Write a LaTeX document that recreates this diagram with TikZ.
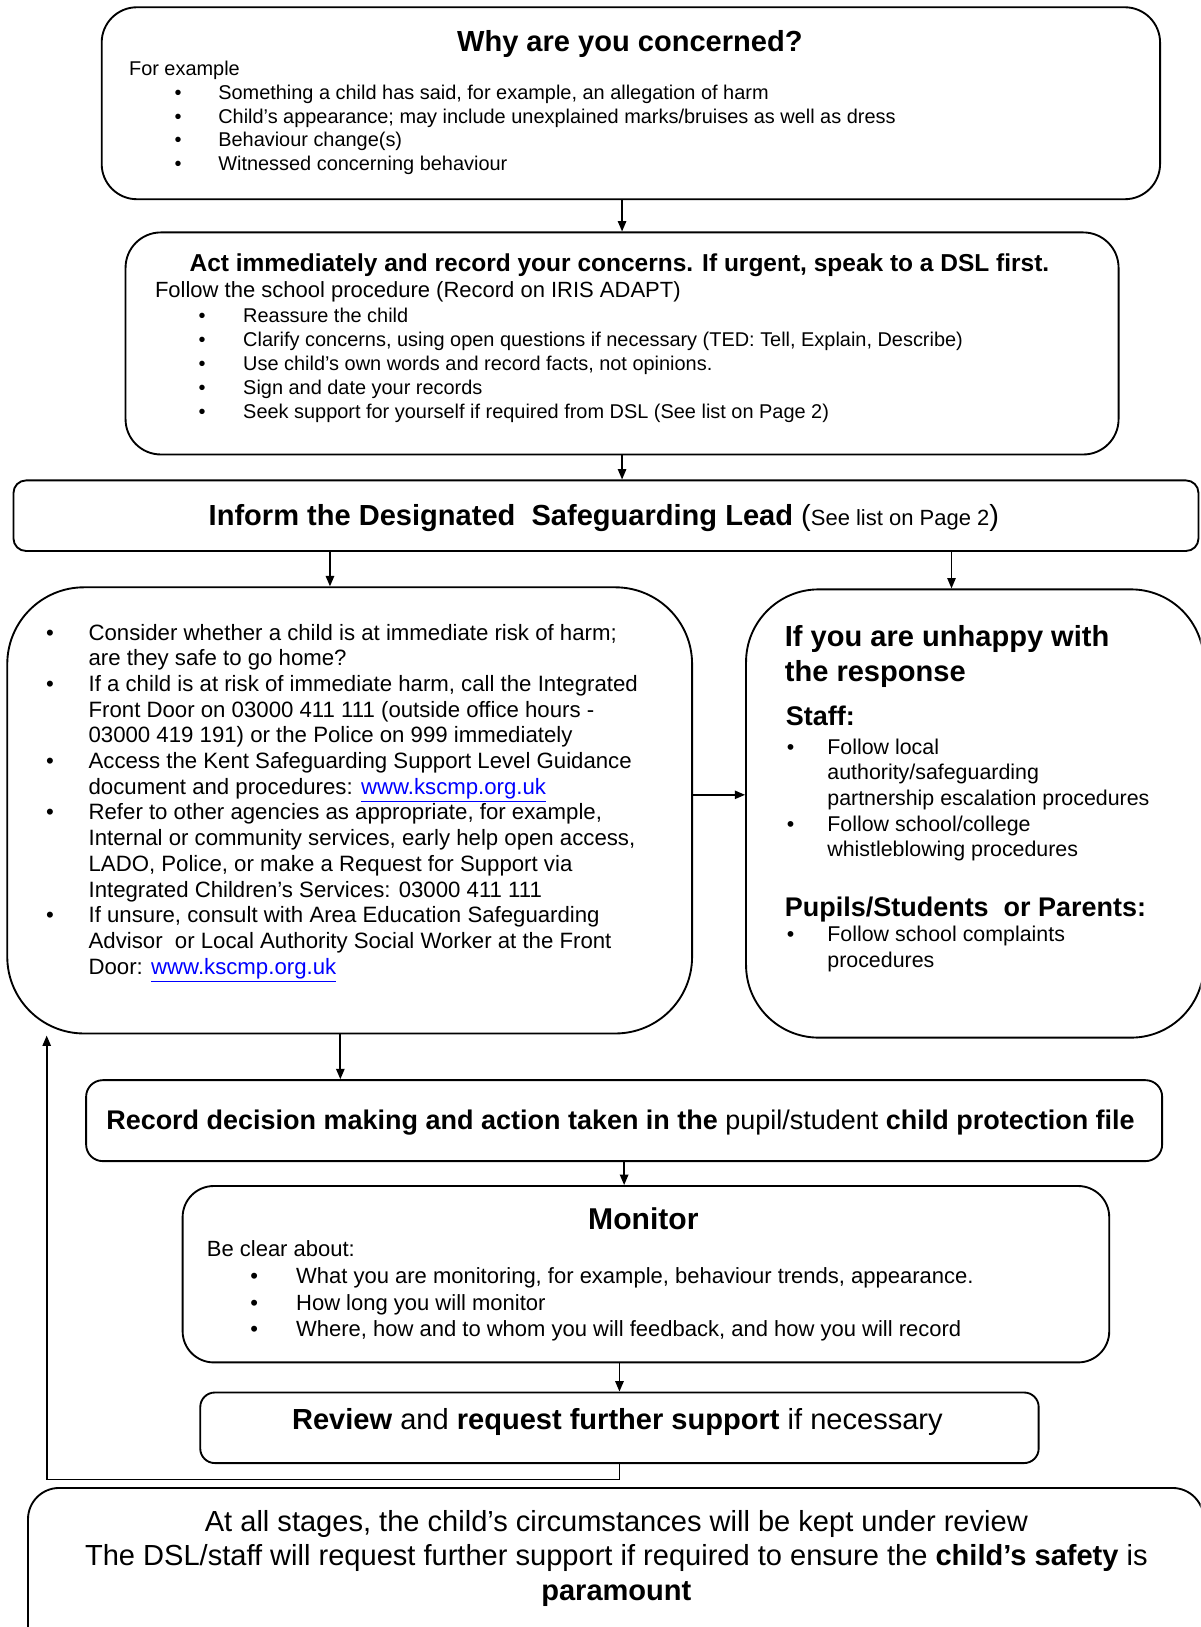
\documentclass[tikz,border=0pt]{standalone}
\usepackage{fontspec}
\setmainfont{Liberation Sans}
\usetikzlibrary{fit,calc,arrows.meta}
\newcommand\myfs[2]{\fontsize{#1}{#2}\selectfont}
\newcommand\weblink[1]{\textcolor{linkblue}{\underline{#1}}}
\definecolor{linkblue}{RGB}{0,0,255}
\begin{document}
\begin{tikzpicture}[x=0.5pt,y=0.5pt,
  box/.style={draw, line width=0.9pt, inner sep=0pt, rectangle},
  arr/.style={-{Triangle[length=5pt,width=4pt]}, line width=0.85pt},
  txt/.style={anchor=base west, inner sep=0pt},
  ctr/.style={anchor=base, inner sep=0pt},
  fa/.style={font=\myfs{9.6}{11}},
  fb/.style={font=\myfs{9.6}{11}},
  fc/.style={font=\myfs{10.7}{12}},
  fd/.style={font=\myfs{10.3}{12}},
  fe/.style={font=\myfs{10.6}{12}},
  head/.style={font=\myfs{14}{17}\bfseries},
  sub/.style={font=\myfs{13}{15}\bfseries}]
\useasboundingbox (0,0) rectangle (1157,-1568);
\clip (0,0) rectangle (1157,-1568);

% ---------- Box 1 ----------
\node[box, rounded corners=17pt, fit={(98,-7)(1118,-192)}] (b1) {};
\node[ctr, head] (b1t) at (607,-50) {Why are you concerned?};
\node[txt, fa] (b1a) at (124,-73) {For example};
\foreach \t [count=\i] in {{Something a child has said, for example, an allegation of harm},
  {Child’s appearance; may include unexplained marks/bruises as well as dress},
  {Behaviour change(s)},
  {Witnessed concerning behaviour}}{
  \node[txt, fa] (b1d\i) at (168,{-96-22.7*(\i-1)}) {•};
  \node[txt, fa] (b1l\i) at (210,{-96-22.7*(\i-1)}) {\t};
}

% ---------- Box 2 ----------
\node[box, rounded corners=17pt, fit={(121,-224)(1078,-438)}] (b2) {};
\node[ctr, font=\myfs{11.8}{14}\bfseries] (b2t) at (597,-262) {Act immediately and record your concerns. If urgent, speak to a DSL first.};
\node[txt, font=\myfs{10.6}{12}] (b2a) at (149,-287) {Follow the school procedure (Record on IRIS ADAPT)};
\foreach \t [count=\i] in {{Reassure the child},
  {Clarify concerns, using open questions if necessary (TED: Tell, Explain, Describe)},
  {Use child’s own words and record facts, not opinions.},
  {Sign and date your records},
  {Seek support for yourself if required from DSL (See list on Page 2)}}{
  \node[txt, fb] (b2d\i) at (191,{-311-23*(\i-1)}) {•};
  \node[txt, fb] (b2l\i) at (234,{-311-23*(\i-1)}) {\t};
}

% ---------- Box 3 ----------
\node[box, rounded corners=6pt, fit={(13,-463)(1155,-531)}] (b3) {};
\node[ctr, font=\myfs{14}{17}] (b3t) at (582,-506) {\bfseries Inform the Designated\ \ Safeguarding Lead \mdseries(\myfs{10.6}{12}See list on Page 2\myfs{14}{17})};

% ---------- Box 4 ----------
\node[box, rounded corners=37pt, fit={(7,-566)(667,-996)}] (b4) {};
\foreach \t [count=\i] in {{Consider whether a child is at immediate risk of harm;},
  {are they safe to go home?},
  {If a child is at risk of immediate harm, call the Integrated},
  {Front Door on 03000 411 111 (outside office hours -},
  {03000 419 191) or the Police on 999 immediately},
  {Access the Kent Safeguarding Support Level Guidance},
  {document and procedures: \weblink{www.kscmp.org.uk}},
  {Refer to other agencies as appropriate, for example,},
  {Internal or community services, early help open access,},
  {LADO, Police, or make a Request for Support via},
  {Integrated Children’s Services: 03000 411 111},
  {If unsure, consult with Area Education Safeguarding},
  {Advisor\ \ or Local Authority Social Worker at the Front},
  {Door: \weblink{www.kscmp.org.uk}}}{
  \node[txt, fc] (b4l\i) at (85,{-617-24.75*(\i-1)}) {\t};
}
\foreach \i in {1,3,6,8,12}{
  \node[txt, fc] (b4d\i) at (44,{-617-24.75*(\i-1)}) {•};
}

% ---------- Box 5 ----------
\node[box, rounded corners=35pt, fit={(719,-568)(1160,-1000)}] (b5) {};
\node[txt, head] (b5t1) at (756,-623) {If you are unhappy with};
\node[txt, head] (b5t2) at (756,-657) {the response};
\node[txt, sub] (b5s) at (757,-699) {Staff:};
\foreach \t [count=\i] in {{Follow local},{authority/safeguarding},{partnership escalation procedures},
  {Follow school/college},{whistleblowing procedures}}{
  \node[txt, fd] (b5l\i) at (797,{-727-24.7*(\i-1)}) {\t};
}
\node[txt, fd] (b5d1) at (758,-727) {•};
\node[txt, fd] (b5d2) at (758,-801) {•};
\node[txt, sub] (b5p) at (756,-883) {Pupils/Students\ \ or Parents:};
\node[txt, fd] (b5d3) at (758,-907) {•};
\node[txt, fd] (b5m1) at (797,-907) {Follow school complaints};
\node[txt, fd] (b5m2) at (797,-932) {procedures};

% ---------- Box 6 ----------
\node[box, rounded corners=8pt, fit={(83,-1041)(1120,-1119)}] (b6) {};
\node[ctr, font=\myfs{13}{15}] (b6t) at (598,-1089) {\bfseries Record decision making and action taken in the \mdseries pupil/student \bfseries child protection file};

% ---------- Box 7 ----------
\node[box, rounded corners=15pt, fit={(176,-1143)(1069,-1313)}] (b7) {};
\node[ctr, font=\myfs{14.5}{17}\bfseries] (b7t) at (620,-1185) {Monitor};
\node[txt, fe] (b7a) at (199,-1211) {Be clear about:};
\foreach \t [count=\i] in {{What you are monitoring, for example, behaviour trends, appearance.},
  {How long you will monitor},
  {Where, how and to whom you will feedback, and how you will record}}{
  \node[txt, fe] (b7d\i) at (241,{-1237-25.5*(\i-1)}) {•};
  \node[txt, fe] (b7l\i) at (285,{-1237-25.5*(\i-1)}) {\t};
}

% ---------- Box 8 ----------
\node[box, rounded corners=7pt, fit={(193,-1342)(1001,-1410)}] (b8) {};
\node[ctr, font=\myfs{14}{17}] (b8t) at (595,-1378) {\bfseries Review \mdseries and \bfseries request further support \mdseries if necessary};

% ---------- Box 9 ----------
\node[box, rounded corners=15pt, fit={(27,-1434)(1160,-1600)}] (b9) {};
\node[ctr, font=\myfs{14}{17}] (b9a) at (594,-1476) {At all stages, the child’s circumstances will be kept under review};
\node[ctr, font=\myfs{14}{17}] (b9b) at (594,-1509) {The DSL/staff will request further support if required to ensure the \textbf{child’s safety} is};
\node[ctr, font=\myfs{14}{17}\bfseries] (b9c) at (594,-1542) {paramount};

% ---------- Connectors ----------
\draw[arr] (b2.north |- b1.south) -- (b2.north);
\draw[arr] (b2.south) -- (b2.south |- b3.north);
\draw[arr] ($(b4.north)+(-19,0)$) coordinate (a1) (a1 |- b3.south) -- (a1);
\draw[arr] ($(b5.north)+(-22.5,0)$) coordinate (a2) (a2 |- b3.south) -- (a2);
\draw[arr] ($(b4.east)+(0,15)$) coordinate (a3) -- (a3 -| b5.west);
\draw[arr] ($(b4.south)+(-9,0)$) coordinate (a4) -- (a4 |- b6.north);
\draw[arr] (b6.south) -- (b6.south |- b7.north);
\draw[arr] (b8.north |- b7.south) -- (b8.north);
\coordinate (fbend) at (45,-998);
\draw[arr] (b8.south) -- ++(0,-15) -| (fbend);
\end{tikzpicture}
\end{document}
